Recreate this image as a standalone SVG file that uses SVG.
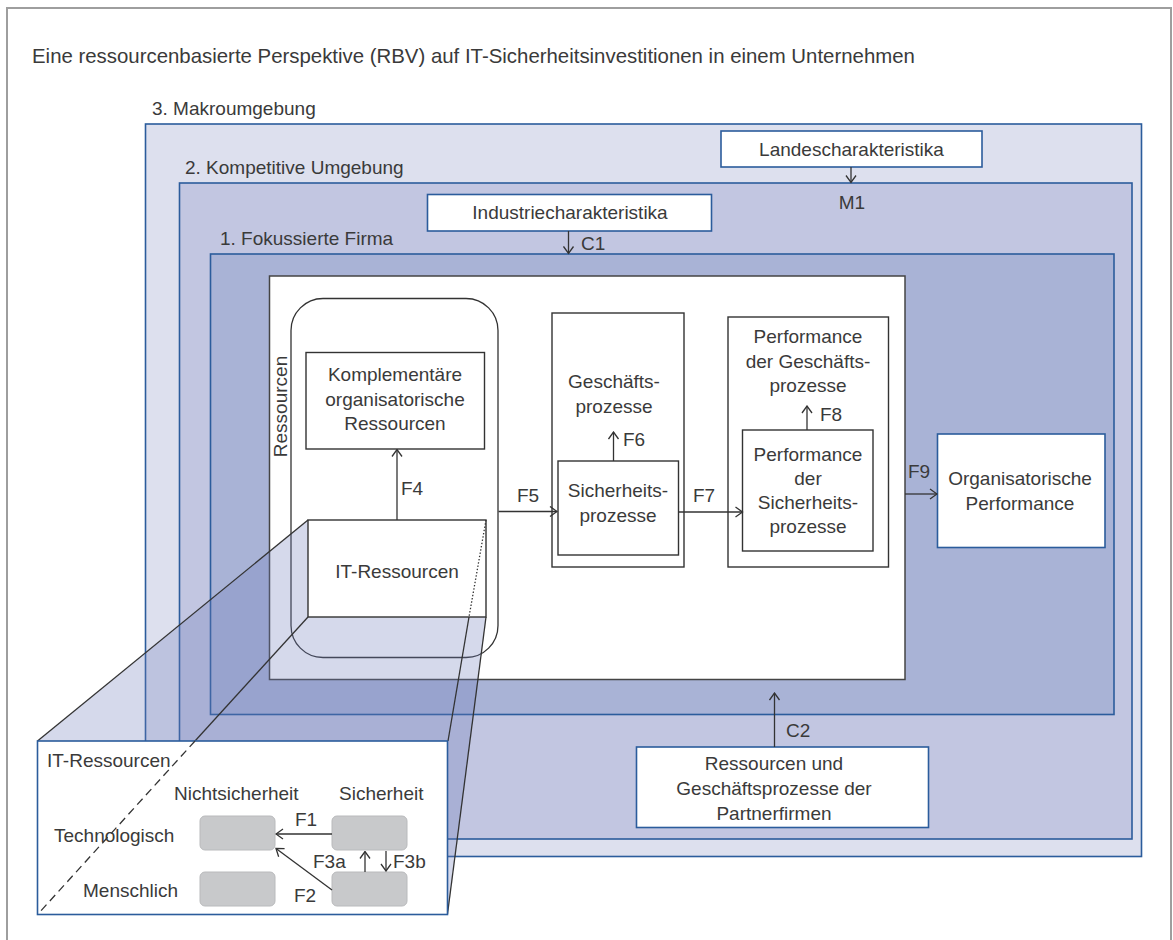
<svg xmlns="http://www.w3.org/2000/svg" width="1173" height="940" viewBox="0 0 1173 940">
<defs>
<style>
text{font-family:"Liberation Sans",Arial,sans-serif;font-size:19px;fill:#3a3a3a}
.c{text-anchor:middle}
.env{stroke:#2b5c9c;stroke-width:1.6}
.wb{fill:#fff;stroke:#2b5c9c;stroke-width:1.6}
.kb{fill:#fff;stroke:#333;stroke-width:1.4}
.ln{stroke:#333;stroke-width:1.3;fill:none}
.ar{stroke:#333;stroke-width:1.3;fill:none;marker-end:url(#ah)}
.gr{fill:#c8c9cb;stroke:#b9babc;stroke-width:1}
</style>
<marker id="ah" viewBox="-9 -6 10 12" refX="0" refY="0" markerWidth="10" markerHeight="12" markerUnits="userSpaceOnUse" orient="auto"><path d="M-7,-5 L0,0 L-7,5" fill="none" stroke="#333" stroke-width="1.3"/></marker>
</defs>
<rect x="0" y="0" width="1173" height="940" fill="#fff"/>
<rect x="7" y="8" width="1164" height="950" fill="none" stroke="#9e9e9e" stroke-width="2"/>
<text x="32" y="63" style="font-size:20.4px">Eine ressourcenbasierte Perspektive (RBV) auf IT-Sicherheitsinvestitionen in einem Unternehmen</text>

<g id="makroumgebung">
<text x="152" y="115">3. Makroumgebung</text>
<rect class="env" x="145.5" y="124" width="996" height="732.5" fill="#dde0ee"/>
</g>
<g id="landescharakteristika">
<rect class="wb" x="721" y="131" width="261" height="36"/>
<text class="c" x="851.5" y="156">Landescharakteristika</text>
</g>
<g id="kompetitive-umgebung">
<text x="185" y="174">2. Kompetitive Umgebung</text>
<rect class="env" x="179.5" y="183" width="952.5" height="656" fill="#c2c6e1"/>
<text class="c" x="852" y="209">M1</text>
</g>
<g id="industriecharakteristika">
<rect class="wb" x="427.5" y="194.5" width="284" height="36.5"/>
<text class="c" x="570" y="219">Industriecharakteristika</text>
</g>
<g id="fokussierte-firma">
<text x="220" y="245">1. Fokussierte Firma</text>
<rect class="env" x="210.5" y="254" width="903.5" height="460.5" fill="#a9b3d6"/>
<text x="581" y="250">C1</text>
</g>
<g id="firma">
<rect x="269.5" y="276" width="635.5" height="403.5" fill="#fff" stroke="#444" stroke-width="1.5"/>
</g>
<g id="ressourcen">
<rect x="291" y="298.5" width="207" height="359" rx="32" ry="32" fill="#fff" stroke="#333" stroke-width="1.3"/>
<text class="c" transform="translate(287,406.5) rotate(-90)">Ressourcen</text>
</g>
<g id="komplementaer">
<rect class="kb" x="306" y="352.5" width="178.5" height="96.5"/>
<text class="c" x="395" y="381">Komplementäre</text>
<text class="c" x="395" y="406">organisatorische</text>
<text class="c" x="395" y="430">Ressourcen</text>
</g>
<g id="geschaeftsprozesse">
<rect class="kb" x="552" y="313" width="132" height="254"/>
<text class="c" x="614" y="388">Geschäfts-</text>
<text class="c" x="614" y="413">prozesse</text>
</g>
<g id="sicherheitsprozesse">
<rect class="kb" x="558" y="461" width="120.5" height="94"/>
<text class="c" x="618" y="497">Sicherheits-</text>
<text class="c" x="618" y="521.5">prozesse</text>
</g>
<g id="performance-geschaeft">
<rect class="kb" x="728" y="317" width="160.5" height="250"/>
<text class="c" x="808" y="342.5">Performance</text>
<text class="c" x="808" y="367.5">der Geschäfts-</text>
<text class="c" x="808" y="391.5">prozesse</text>
</g>
<g id="performance-sicherheit">
<rect class="kb" x="742.5" y="430" width="130.5" height="121"/>
<text class="c" x="808" y="460.5">Performance</text>
<text class="c" x="808" y="485">der</text>
<text class="c" x="808" y="509">Sicherheits-</text>
<text class="c" x="808" y="533">prozesse</text>
</g>
<g id="organisatorische-performance">
<rect class="wb" x="937.5" y="434" width="167.5" height="113.5"/>
<text class="c" x="1020" y="485">Organisatorische</text>
<text class="c" x="1020" y="510">Performance</text>
</g>
<g id="partnerfirmen">
<rect class="wb" x="636.5" y="747" width="292" height="80.5"/>
<text class="c" x="774" y="770">Ressourcen und</text>
<text class="c" x="774" y="795">Geschäftsprozesse der</text>
<text class="c" x="774" y="820">Partnerfirmen</text>
</g>

<polygon id="projektion" points="308,520 486,520 486,617 447.5,914.5 37.5,914.5 37.5,741" fill="#6e7db9" fill-opacity="0.29"/>

<g id="it-ressourcen">
<rect class="kb" x="308" y="520" width="178" height="97"/>
<text class="c" x="397" y="578">IT-Ressourcen</text>
</g>

<g id="connectors">
<line class="ar" x1="851" y1="167" x2="851" y2="182.5"/>
<line class="ar" x1="568.5" y1="231" x2="568.5" y2="253.5"/>
<line class="ar" x1="397" y1="520" x2="397" y2="449.5"/>
<text x="401" y="495">F4</text>
<line class="ar" x1="498.5" y1="511.5" x2="557" y2="511.5"/>
<text x="517" y="502">F5</text>
<line class="ar" x1="613.5" y1="461" x2="613.5" y2="432"/>
<text x="623" y="446">F6</text>
<line class="ar" x1="678.5" y1="512" x2="742.5" y2="512"/>
<text x="693" y="502">F7</text>
<line class="ar" x1="807" y1="430" x2="807" y2="406"/>
<text x="820" y="421">F8</text>
<line class="ar" x1="905" y1="494" x2="937" y2="494"/>
<text x="908" y="478">F9</text>
<line class="ar" x1="774.5" y1="747" x2="774.5" y2="693"/>
<text x="786" y="737">C2</text>
</g>

<g id="projektionslinien">
<line class="ln" x1="308" y1="520" x2="37.5" y2="741"/>
<line class="ln" x1="308" y1="617" x2="195" y2="741"/>
<line class="ln" x1="486" y1="520" x2="469" y2="617" stroke-dasharray="1.5,1.8"/>
<line class="ln" x1="469" y1="617" x2="448" y2="741"/>
<line class="ln" x1="486" y1="617" x2="447.5" y2="914"/>
</g>

<g id="inset">
<rect class="wb" x="37.5" y="741" width="410" height="173.5"/>
<line class="ln" x1="195" y1="741" x2="38" y2="914" stroke-dasharray="8,5"/>
<text x="47" y="767">IT-Ressourcen</text>
<text x="174" y="800">Nichtsicherheit</text>
<text x="339" y="800">Sicherheit</text>
<text x="54" y="842">Technologisch</text>
<text x="83" y="897">Menschlich</text>
<rect class="gr" x="200" y="816" width="75" height="34" rx="5"/>
<rect class="gr" x="332" y="816" width="75" height="34" rx="5"/>
<rect class="gr" x="200" y="872" width="75" height="34" rx="5"/>
<rect class="gr" x="332" y="872" width="75" height="34" rx="5"/>
<line class="ar" x1="332" y1="834" x2="276" y2="834"/>
<text x="295" y="826">F1</text>
<line class="ar" x1="332" y1="890" x2="276" y2="848.5"/>
<text x="294" y="902">F2</text>
<line class="ar" x1="365" y1="872" x2="365" y2="851.5"/>
<text x="313" y="868">F3a</text>
<line class="ar" x1="386" y1="851" x2="386" y2="871"/>
<text x="393" y="868">F3b</text>
</g>
</svg>
